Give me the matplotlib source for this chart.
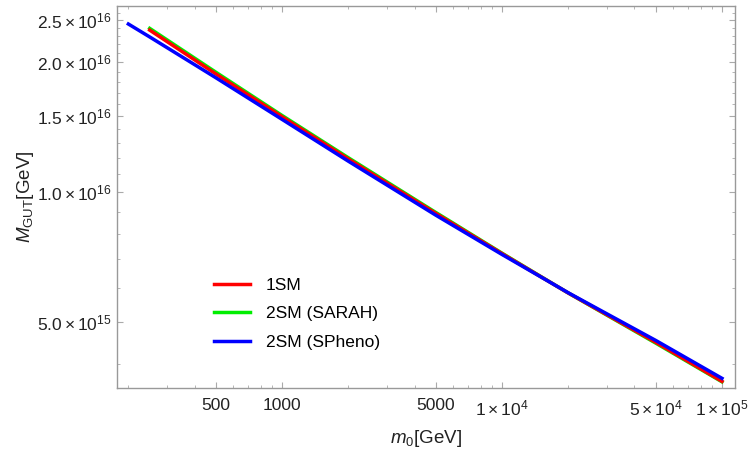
import matplotlib
matplotlib.use('Agg')
import matplotlib.pyplot as plt
import matplotlib.ticker as ticker

# data (log-log)
m0_1sm = [250, 500, 1000, 2000, 5000, 10000, 20000, 50000, 100000]
mgut_1sm = [2.371e16, 1.877e16, 1.494e16, 1.193e16, 8.925e15, 7.203e15, 5.84e15, 4.49e15, 3.647e15]

m0_sarah = [250, 500, 1000, 2000, 5000, 10000, 20000, 50000, 100000]
mgut_sarah = [2.393e16, 1.894e16, 1.504e16, 1.201e16, 8.97e15, 7.22e15, 5.84e15, 4.47e15, 3.638e15]

m0_spheno = [200, 250, 500, 1000, 2000, 5000, 10000, 20000, 50000, 100000]
mgut_spheno = [2.449e16, 2.286e16, 1.839e16, 1.473e16, 1.179e16, 8.84e15, 7.17e15, 5.847e15, 4.535e15, 3.706e15]

x_ticks = [500, 1000, 5000, 10000, 50000, 100000]
x_labels = ['500', '1000', '5000', r'$1\times10^{4}$', r'$5\times10^{4}$', r'$1\times10^{5}$']
y_ticks = [5e15, 1e16, 1.5e16, 2e16, 2.5e16]
y_labels = [r'$5.0\times10^{15}$', r'$1.0\times10^{16}$', r'$1.5\times10^{16}$',
            r'$2.0\times10^{16}$', r'$2.5\times10^{16}$']

plt.rcParams['font.family'] = ['Liberation Sans', 'DejaVu Sans']
plt.rcParams['mathtext.fontset'] = 'custom'
plt.rcParams['mathtext.rm'] = 'Liberation Sans'
plt.rcParams['mathtext.it'] = 'Liberation Sans:italic'
plt.rcParams['mathtext.bf'] = 'Liberation Sans:bold'

fig = plt.figure(figsize=(7.5, 4.5), dpi=100)
ax = fig.add_axes([0.1556, 0.1378, 0.98 - 0.1556, 0.9867 - 0.1378])

lw = 2.5
ax.plot(m0_1sm, mgut_1sm, color='#ff0000', lw=lw, label='1SM')
ax.plot(m0_sarah, mgut_sarah, color='#00ee00', lw=lw, label='2SM (SARAH)', zorder=1.9)
ax.plot(m0_spheno, mgut_spheno, color='#0000ff', lw=lw, label='2SM (SPheno)')

ax.set_xscale('log')
ax.set_yscale('log')
ax.set_xlim(177, 114600)
ax.set_ylim(3.52e15, 2.696e16)

ax.xaxis.set_major_locator(ticker.FixedLocator(x_ticks))
ax.xaxis.set_major_formatter(ticker.FixedFormatter(x_labels))
ax.xaxis.set_minor_locator(ticker.LogLocator(base=10, subs=range(1, 10), numticks=20))
ax.xaxis.set_minor_formatter(ticker.NullFormatter())

ax.yaxis.set_major_locator(ticker.FixedLocator(y_ticks))
ax.yaxis.set_major_formatter(ticker.FixedFormatter(y_labels))
ax.yaxis.set_minor_locator(ticker.FixedLocator([v * 1e15 for v in range(4, 27)]))
ax.yaxis.set_minor_formatter(ticker.NullFormatter())

for s in ax.spines.values():
    s.set_color('#999999')
    s.set_linewidth(1.0)
ax.tick_params(which='both', direction='in', top=True, right=True, color='#aaaaaa',
               labelsize=12.5, labelcolor='#222222')
ax.tick_params(which='major', length=4.5, width=0.8)
ax.tick_params(axis='x', which='major', pad=7.5)
ax.tick_params(axis='y', which='major', pad=4)
ax.tick_params(which='minor', length=2.5, width=0.6)

ax.set_xlabel(r'$m_{0}$[GeV]', fontsize=13.5, color='#222222', labelpad=7)
ax.set_ylabel(r'$M_{\mathrm{GUT}}$[GeV]', fontsize=13.5, color='#222222', labelpad=0.5)

ax.legend(loc='center left', bbox_to_anchor=(0.146, 0.194), frameon=False,
          fontsize=12.5, handlelength=2.1, handletextpad=0.9, labelspacing=0.75,
          borderaxespad=0)

plt.savefig('out.png', dpi=100)
